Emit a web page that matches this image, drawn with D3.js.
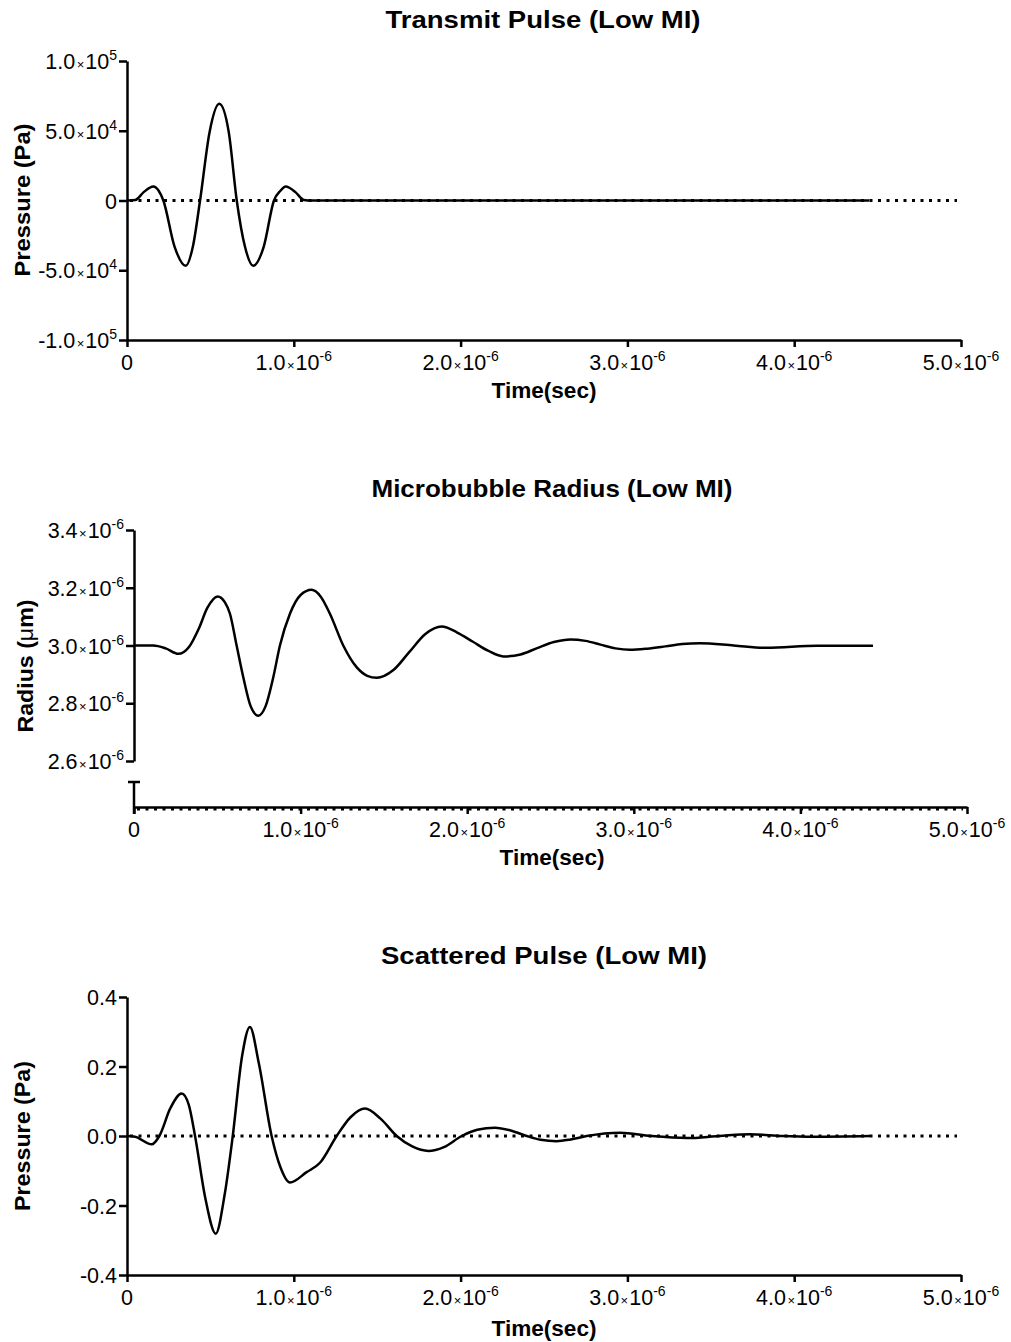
<!DOCTYPE html>
<html><head><meta charset="utf-8">
<script src="https://cdn.jsdelivr.net/npm/d3@7"></script>
<style>body{margin:0;background:#fff}svg{display:block}text{font-family:'Liberation Sans',Arial,sans-serif;fill:#000}</style>
</head><body>
<svg id="c" width="1011" height="1342"></svg>
<script>
// ---- data (time in units of 1e-6 s) ----
const timeTicks = [0, 1, 2, 3, 4, 5];
const timeTickLabels = [["0"], ["1.0","-6"], ["2.0","-6"], ["3.0","-6"], ["4.0","-6"], ["5.0","-6"]];

const transmitTime = [0, 0.05, 0.1, 0.158, 0.19, 0.218, 0.285, 0.352, 0.395, 0.438, 0.495, 0.553, 0.61, 0.658, 0.707, 0.757, 0.82, 0.881, 0.92, 0.951, 1.01, 1.06, 1.11, 1.3, 2.0, 3.0, 4.0, 4.45];
const transmitPressure = [0, 400, 6000, 10000, 7000, 0, -33000, -46800, -33000, 0, 49000, 69300, 49000, 0, -33000, -46800, -33000, 0, 7000, 10000, 6000, 400, 0, 0, 0, 0, 0, 0];
const transmitTicks = [100000, 50000, 0, -50000, -100000];
const transmitTickLabels = [["1.0","5"], ["5.0","4"], ["0"], ["-5.0","4"], ["-1.0","5"]];

// radius in units of 1e-6 m
const radiusTime = [0, 0.116, 0.19, 0.266, 0.33, 0.39, 0.44, 0.502, 0.545, 0.576, 0.616, 0.656, 0.70, 0.746, 0.79, 0.836, 0.876, 0.936, 1.0, 1.066, 1.12, 1.176, 1.256, 1.336, 1.40, 1.457, 1.555, 1.652, 1.749, 1.847, 1.94, 2.032, 2.125, 2.217, 2.32, 2.42, 2.52, 2.62, 2.71, 2.80, 2.89, 2.977, 3.08, 3.19, 3.29, 3.397, 3.6, 3.797, 4.1, 4.436];
const radiusValue = [3.000, 3.000, 2.990, 2.971, 2.995, 3.06, 3.13, 3.170, 3.15, 3.110, 3.000, 2.890, 2.79, 2.757, 2.79, 2.89, 3.000, 3.110, 3.175, 3.193, 3.17, 3.11, 3.00, 2.925, 2.895, 2.888, 2.914, 2.977, 3.040, 3.066, 3.045, 3.014, 2.982, 2.962, 2.969, 2.991, 3.012, 3.021, 3.016, 3.003, 2.990, 2.985, 2.989, 2.997, 3.005, 3.008, 3.000, 2.992, 2.999, 2.999];
const radiusTicks = [3.4, 3.2, 3.0, 2.8, 2.6];
const radiusTickLabels = [["3.4","-6"], ["3.2","-6"], ["3.0","-6"], ["2.8","-6"], ["2.6","-6"]];

const scatterTime = [0, 0.048, 0.148, 0.194, 0.26, 0.328, 0.37, 0.408, 0.47, 0.532, 0.585, 0.634, 0.69, 0.737, 0.79, 0.867, 0.92, 0.977, 1.077, 1.157, 1.257, 1.34, 1.427, 1.52, 1.617, 1.71, 1.807, 1.9, 2.007, 2.1, 2.206, 2.30, 2.396, 2.48, 2.576, 2.66, 2.756, 2.956, 3.14, 3.356, 3.55, 3.735, 3.93, 4.115, 4.454];
const scatterPressure = [0, -0.002, -0.024, 0, 0.08, 0.122, 0.09, 0, -0.18, -0.281, -0.17, 0, 0.23, 0.314, 0.21, 0, -0.09, -0.134, -0.104, -0.077, 0, 0.054, 0.079, 0.05, 0, -0.03, -0.043, -0.032, 0, 0.018, 0.024, 0.016, 0, -0.011, -0.015, -0.01, 0, 0.0096, 0, -0.006, 0, 0.005, 0, -0.002, 0];
const scatterTicks = [0.4, 0.2, 0.0, -0.2, -0.4];
const scatterTickLabels = [["0.4"], ["0.2"], ["0.0"], ["-0.2"], ["-0.4"]];

// ---- drawing ----
const svg = d3.select("#c");
const SW = 2.5;

function sciLabel(sel, parts) {
  sel.append("tspan").text(parts[0]);
  if (parts.length > 1) {
    sel.append("tspan").attr("font-size", 13).attr("dx", 1.5).text("\u00d7");
    sel.append("tspan").attr("dx", 1).text("10");
    sel.append("tspan").attr("font-size", 14).attr("dy", -9).text(parts[1]);
  }
}

function xAxis(g, x, y0) {
  const ax = d3.axisBottom(x).tickValues(timeTicks).tickSize(7).tickSizeOuter(0).tickFormat("");
  const a = g.append("g").attr("transform", `translate(0,${y0})`).call(ax);
  a.select(".domain").attr("stroke-width", SW).attr("stroke", "#000");
  a.selectAll(".tick line").attr("stroke-width", SW).attr("stroke", "#000");
  timeTicks.forEach((t, i) => {
    const tx = g.append("text").attr("x", x(t)).attr("y", y0 + 30).attr("text-anchor", "middle").attr("font-size", 21.5);
    sciLabel(tx, timeTickLabels[i]);
  });
}

function yAxis(g, y, x0, ticks, labels) {
  const ax = d3.axisLeft(y).tickValues(ticks).tickSize(8).tickSizeOuter(0).tickFormat("");
  const a = g.append("g").attr("transform", `translate(${x0},0)`).call(ax);
  a.select(".domain").attr("stroke-width", SW).attr("stroke", "#000");
  a.selectAll(".tick line").attr("stroke-width", SW).attr("stroke", "#000");
  ticks.forEach((v, i) => {
    const tx = g.append("text").attr("x", x0 - 10).attr("y", y(v) + 8).attr("text-anchor", "end").attr("font-size", 21.5);
    sciLabel(tx, labels[i]);
  });
}

function curve(g, x, y, xs, ys) {
  const pts = xs.map((t, i) => [t, ys[i]]);
  g.append("path").datum(pts)
    .attr("d", d3.line().x(d => x(d[0])).y(d => y(d[1])).curve(d3.curveMonotoneX))
    .attr("fill", "none").attr("stroke", "#000").attr("stroke-width", SW).attr("stroke-linejoin", "round");
}

function zeroLine(g, x, yPix) {
  g.append("line").attr("x1", x(0) + 3).attr("x2", x(5) - 4).attr("y1", yPix).attr("y2", yPix)
    .attr("stroke", "#000").attr("stroke-width", 3).attr("stroke-dasharray", "3,5.5");
}

function title(text, cx, y, len) {
  svg.append("text").attr("x", cx).attr("y", y).attr("text-anchor", "middle")
    .attr("font-size", 24).attr("font-weight", "bold")
    .attr("textLength", len).attr("lengthAdjust", "spacingAndGlyphs").text(text);
}
function xTitle(cx, y) {
  svg.append("text").attr("x", cx).attr("y", y).attr("text-anchor", "middle")
    .attr("font-size", 22).attr("font-weight", "bold").attr("textLength", 105).attr("lengthAdjust", "spacingAndGlyphs").text("Time(sec)");
}
function yTitle(bx, cy, len, build) {
  const t = svg.append("text").attr("transform", `translate(${bx},${cy}) rotate(-90)`).attr("text-anchor", "middle")
    .attr("font-size", 22).attr("font-weight", "bold").attr("textLength", len).attr("lengthAdjust", "spacingAndGlyphs");
  build(t);
}

// Panel 1: Transmit pulse
{
  const g = svg.append("g");
  const x = d3.scaleLinear().domain([0, 5]).range([127, 961]);
  const y = d3.scaleLinear().domain([-100000, 100000]).range([340, 61]);
  zeroLine(g, x, y(0));
  curve(g, x, y, transmitTime, transmitPressure);
  yAxis(g, y, 127, transmitTicks, transmitTickLabels);
  xAxis(g, x, 340);
  title("Transmit Pulse (Low  MI)", 543, 28, 315);
  xTitle(544, 398);
  yTitle(30, 200, 153, t => t.text("Pressure (Pa)"));
}

// Panel 2: Microbubble radius (broken y axis)
{
  const g = svg.append("g");
  const x = d3.scaleLinear().domain([0, 5]).range([134, 967]);
  const y = d3.scaleLinear().domain([2.6, 3.4]).range([761, 530]);
  const yLow = d3.scaleLinear().domain([0, 0.1]).range([807, 782]);
  zeroLine(g, x, yLow(0) + 2);
  curve(g, x, y, radiusTime, radiusValue);
  yAxis(g, y, 134, radiusTicks, radiusTickLabels);
  // lower segment of the broken axis
  g.append("line").attr("x1", 134).attr("x2", 134).attr("y1", yLow(0.1)).attr("y2", yLow(0) + 7)
    .attr("stroke", "#000").attr("stroke-width", SW);
  g.append("line").attr("x1", 128).attr("x2", 140).attr("y1", yLow(0.1)).attr("y2", yLow(0.1))
    .attr("stroke", "#000").attr("stroke-width", SW);
  xAxis(g, x, yLow(0));
  title("Microbubble Radius (Low MI)", 552, 497, 361);
  xTitle(552, 865);
  yTitle(33, 666, 133, t => {
    t.append("tspan").text("Radius (");
    t.append("tspan").attr("font-weight", "normal").text("\u03bc");
    t.append("tspan").text("m)");
  });
}

// Panel 3: Scattered pulse
{
  const g = svg.append("g");
  const x = d3.scaleLinear().domain([0, 5]).range([127, 961]);
  const y = d3.scaleLinear().domain([-0.4, 0.4]).range([1275, 997]);
  zeroLine(g, x, y(0));
  curve(g, x, y, scatterTime, scatterPressure);
  yAxis(g, y, 127, scatterTicks, scatterTickLabels);
  xAxis(g, x, 1275);
  title("Scattered Pulse  (Low MI)", 544, 964, 326);
  xTitle(544, 1336);
  yTitle(30, 1136, 150, t => t.text("Pressure (Pa)"));
}
</script>
</body></html>
